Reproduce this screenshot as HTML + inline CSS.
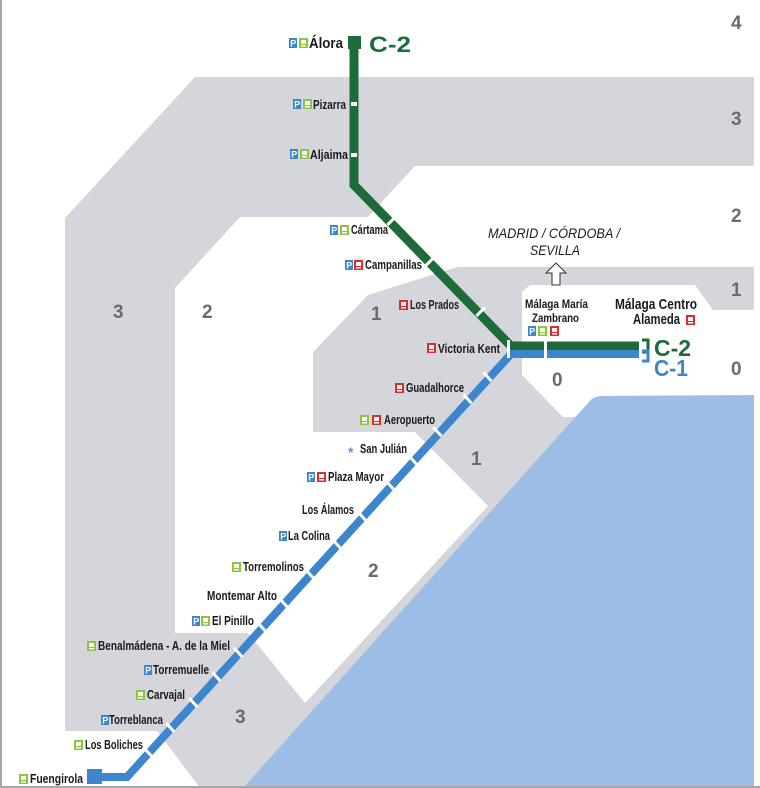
<!DOCTYPE html>
<html><head><meta charset="utf-8"><style>
html,body{margin:0;padding:0;background:#fff}
svg{display:block}
text{font-family:"Liberation Sans",sans-serif;font-weight:bold;fill:#1a1a1a}
.s{font-size:13px}
.z{font-family:"Liberation Sans",sans-serif;font-size:19px;fill:#6a6a70}
</style></head><body>
<svg width="760" height="788" viewBox="0 0 760 788" xmlns="http://www.w3.org/2000/svg">
<defs>
<g id="P"><rect x="0" y="0" width="8" height="10" fill="#3d85cc"/><text x="1.3" y="8.5" style="font-size:9px;fill:#fff">P</text></g>
<g id="G"><rect x="0" y="0" width="9" height="10" fill="#8cc63f"/><rect x="2" y="2" width="5" height="4" fill="#fff"/><rect x="2" y="7" width="5" height="1.5" fill="#fff"/></g>
<g id="R"><rect x="0" y="0" width="9" height="10" fill="#e02b2b"/><rect x="2" y="2" width="5" height="4" fill="#fff"/><rect x="2" y="7" width="5" height="1.5" fill="#fff"/></g>
</defs>
<polygon points="65,218 195,77 754,77 754,788 200,788 157,731 65,731" fill="#d4d6dc"/>
<polygon points="175,288 240,217 368,217 415,166 754,166 754,267 457,267 368,295 313,352 313,432 415,432 488,506 305,703 248,633 175,633" fill="#fff"/>
<polygon points="522,292 530,285 695,285 713,310 754,310 754,400 580,417 563,417 522,375" fill="#fff"/>
<polygon points="0,731 157,731 200,788 0,788" fill="#fff"/>
<path d="M243,788 L588,403 Q593,396 602,396 L754,395 L754,788 Z" fill="#9bbde6"/>
<rect x="0" y="0" width="2" height="788" fill="#a8a8a8"/>
<rect x="0" y="786" width="760" height="2" fill="#a8a8a8"/>
<text class="z" x="731" y="29">4</text><text class="z" x="731" y="125">3</text><text class="z" x="731" y="222">2</text>
<text class="z" x="731" y="296">1</text><text class="z" x="731" y="375">0</text>
<text class="z" x="113" y="318">3</text><text class="z" x="202" y="318">2</text><text class="z" x="371" y="320">1</text>
<text class="z" x="552" y="386">0</text><text class="z" x="471" y="465">1</text><text class="z" x="368" y="577">2</text><text class="z" x="235" y="723">3</text>
<polyline points="354,45 354,185 506,341 511,346 639,346" fill="none" stroke="#1c6b38" stroke-width="9"/>
<rect x="348" y="36" width="13" height="13" fill="#1c6b38"/>
<polyline points="639,354 511,354 127,777 102,777" fill="none" stroke="#3d85cc" stroke-width="8"/>
<rect x="87" y="769" width="15" height="15" fill="#3d85cc"/>
<g fill="#fff">
<rect x="351" y="102" width="6" height="4"/><rect x="351" y="153" width="6" height="4"/>
<rect x="386" y="219" width="12" height="3" transform="rotate(-45 392 221)"/>
<rect x="424" y="260" width="12" height="3" transform="rotate(-45 430 262)"/>
<rect x="475" y="310" width="12" height="3" transform="rotate(-45 481 312)"/>
<rect x="544" y="340" width="3" height="18"/>
<rect x="507" y="340" width="3" height="18"/>
</g>
<g fill="#fff">
<rect x="486" y="371" width="3" height="12" transform="rotate(-42 487 377)"/>
<rect x="466" y="393" width="3" height="12" transform="rotate(-42 467 399)"/>
<rect x="436" y="426" width="3" height="12" transform="rotate(-42 437 432)"/>
<rect x="411" y="454" width="3" height="12" transform="rotate(-42 412 460)"/>
<rect x="388" y="479" width="3" height="12" transform="rotate(-42 389 485)"/>
<rect x="360" y="510" width="3" height="12" transform="rotate(-42 361 516)"/>
<rect x="335" y="538" width="3" height="12" transform="rotate(-42 336 544)"/>
<rect x="308" y="568" width="3" height="12" transform="rotate(-42 309 574)"/>
<rect x="282" y="597" width="3" height="12" transform="rotate(-42 283 603)"/>
<rect x="260" y="621" width="3" height="12" transform="rotate(-42 261 627)"/>
<rect x="237" y="647" width="3" height="12" transform="rotate(-42 238 653)"/>
<rect x="215" y="671" width="3" height="12" transform="rotate(-42 216 677)"/>
<rect x="192" y="697" width="3" height="12" transform="rotate(-42 193 703)"/>
<rect x="169" y="722" width="3" height="12" transform="rotate(-42 170 728)"/>
<rect x="147" y="747" width="3" height="12" transform="rotate(-42 148 753)"/>
</g>
<path d="M642,340 h6 v12 h-6" fill="none" stroke="#1c6b38" stroke-width="3"/>
<path d="M642,351 h6 v10 h-6" fill="none" stroke="#3d85cc" stroke-width="3"/>
<text x="654" y="356" textLength="37" lengthAdjust="spacingAndGlyphs" style="font-size:23px;fill:#1c6b38">C-2</text>
<text x="654" y="376" textLength="34" lengthAdjust="spacingAndGlyphs" style="font-size:23px;fill:#3d85cc">C-1</text>
<text x="369" y="52" textLength="42" lengthAdjust="spacingAndGlyphs" style="font-size:22px;fill:#1c6b38">C-2</text>
<text x="309" y="48" textLength="34" lengthAdjust="spacingAndGlyphs" style="font-size:15px">Álora</text>
<use href="#P" x="289" y="38"/><use href="#G" x="299" y="38"/>
<text class="s" x="313" y="109" textLength="33" lengthAdjust="spacingAndGlyphs">Pizarra</text><use href="#P" x="293" y="99"/><use href="#G" x="303" y="99"/>
<text class="s" x="310" y="159" textLength="38" lengthAdjust="spacingAndGlyphs">Aljaima</text><use href="#P" x="290" y="149"/><use href="#G" x="300" y="149"/>
<text class="s" x="351" y="234" textLength="37" lengthAdjust="spacingAndGlyphs">Cártama</text><use href="#P" x="330" y="225"/><use href="#G" x="340" y="225"/>
<text class="s" x="365" y="269" textLength="57" lengthAdjust="spacingAndGlyphs">Campanillas</text><use href="#P" x="345" y="260"/><use href="#R" x="354" y="260"/>
<text class="s" x="410" y="309" textLength="49" lengthAdjust="spacingAndGlyphs">Los Prados</text><use href="#R" x="399" y="300"/>
<text class="s" x="438" y="353" textLength="62" lengthAdjust="spacingAndGlyphs">Victoria Kent</text><use href="#R" x="427" y="343"/>
<text class="s" x="406" y="392" textLength="58" lengthAdjust="spacingAndGlyphs">Guadalhorce</text><use href="#R" x="395" y="383"/>
<text class="s" x="384" y="424" textLength="51" lengthAdjust="spacingAndGlyphs">Aeropuerto</text><use href="#G" x="360" y="415"/><use href="#R" x="372" y="415"/>
<text class="s" x="360" y="453" textLength="47" lengthAdjust="spacingAndGlyphs">San Julián</text><text x="348" y="457" style="font-size:14px;fill:#5a95d0">*</text>
<text class="s" x="328" y="481" textLength="56" lengthAdjust="spacingAndGlyphs">Plaza Mayor</text><use href="#P" x="307" y="472"/><use href="#R" x="317" y="472"/>
<text class="s" x="302" y="514" textLength="52" lengthAdjust="spacingAndGlyphs">Los Álamos</text>
<text class="s" x="288" y="540" textLength="42" lengthAdjust="spacingAndGlyphs">La Colina</text><use href="#P" x="279" y="531"/>
<text class="s" x="243" y="571" textLength="61" lengthAdjust="spacingAndGlyphs">Torremolinos</text><use href="#G" x="232" y="562"/>
<text class="s" x="207" y="600" textLength="70" lengthAdjust="spacingAndGlyphs">Montemar Alto</text>
<text class="s" x="212" y="625" textLength="42" lengthAdjust="spacingAndGlyphs">El Pinillo</text><use href="#P" x="192" y="616"/><use href="#G" x="201" y="616"/>
<text class="s" x="98" y="650" textLength="132" lengthAdjust="spacingAndGlyphs">Benalmádena - A. de la Miel</text><use href="#G" x="87" y="641"/>
<text class="s" x="153" y="674" textLength="56" lengthAdjust="spacingAndGlyphs">Torremuelle</text><use href="#P" x="144" y="665"/>
<text class="s" x="147" y="699" textLength="38" lengthAdjust="spacingAndGlyphs">Carvajal</text><use href="#G" x="136" y="690"/>
<text class="s" x="109" y="724" textLength="54" lengthAdjust="spacingAndGlyphs">Torreblanca</text><use href="#P" x="101" y="715"/>
<text class="s" x="85" y="749" textLength="58" lengthAdjust="spacingAndGlyphs">Los Boliches</text><use href="#G" x="74" y="740"/>
<text class="s" x="30" y="783" textLength="53" lengthAdjust="spacingAndGlyphs">Fuengirola</text><use href="#G" x="19" y="774"/>
<text x="488" y="238" textLength="132" lengthAdjust="spacingAndGlyphs" style="font-weight:normal;font-style:italic;font-size:14px">MADRID / CÓRDOBA /</text>
<text x="530" y="255" textLength="50" lengthAdjust="spacingAndGlyphs" style="font-weight:normal;font-style:italic;font-size:14px">SEVILLA</text>
<path d="M556,263 L566,273 L560,273 L560,285 L552,285 L552,273 L546,273 Z" fill="#fff" stroke="#333" stroke-width="1"/>
<text x="525" y="308" textLength="63" lengthAdjust="spacingAndGlyphs" style="font-size:12px">Málaga María</text>
<text x="532" y="322" textLength="47" lengthAdjust="spacingAndGlyphs" style="font-size:12px">Zambrano</text>
<use href="#P" x="528" y="326"/><use href="#G" x="538" y="326"/><use href="#R" x="550" y="326"/>
<text x="615" y="309" textLength="82" lengthAdjust="spacingAndGlyphs" style="font-size:15px">Málaga Centro</text>
<text x="633" y="324" textLength="47" lengthAdjust="spacingAndGlyphs" style="font-size:15px">Alameda</text><use href="#R" x="686" y="315"/>
</svg>
</body></html>
